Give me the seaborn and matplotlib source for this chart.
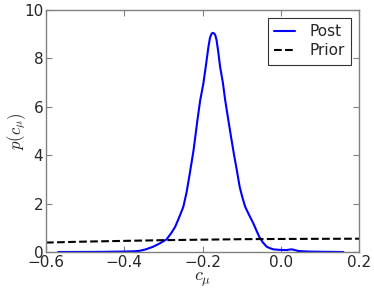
import numpy as np
import matplotlib
matplotlib.use("Agg")
import matplotlib.pyplot as plt
import seaborn as sns
import pandas as pd

# posterior density of c_mu
post_x = [-0.569, -0.50, -0.45, -0.40, -0.375, -0.360, -0.345, -0.326, -0.310,
          -0.292, -0.280, -0.270, -0.260, -0.249, -0.241, -0.234, -0.223,
          -0.213, -0.206, -0.198, -0.191, -0.185, -0.181, -0.177, -0.174,
          -0.170, -0.167, -0.164, -0.160, -0.155, -0.148, -0.142, -0.134,
          -0.127, -0.120, -0.112, -0.105, -0.098, -0.091, -0.080, -0.070,
          -0.062, -0.055, -0.046, -0.036, -0.028, -0.019, -0.005, 0.015,
          0.022, 0.028, 0.036, 0.045, 0.07, 0.10, 0.13, 0.16]
post_y = [0.0, 0.003, 0.008, 0.02, 0.03, 0.05, 0.11, 0.22, 0.35,
          0.52, 0.78, 1.04, 1.42, 1.87, 2.45, 3.1, 4.2,
          5.45, 6.27, 6.95, 7.75, 8.47, 8.85, 9.02, 9.06,
          9.03, 8.95, 8.75, 8.3, 7.65, 7.0, 6.27, 5.45,
          4.75, 4.07, 3.35, 2.69, 2.25, 1.87, 1.5, 1.18,
          0.88, 0.63, 0.40, 0.22, 0.16, 0.11, 0.09, 0.08,
          0.10, 0.11, 0.08, 0.04, 0.02, 0.01, 0.005, 0.0]

# prior density
prior_x = [-0.6, -0.5, -0.4, -0.3, -0.2, -0.1, 0.0, 0.1, 0.2]
prior_y = [0.39, 0.43, 0.46, 0.49, 0.51, 0.53, 0.54, 0.545, 0.55]

post = pd.DataFrame({'x': post_x, 'y': post_y})
prior = pd.DataFrame({'x': prior_x, 'y': prior_y})

sns.set_style('white')
plt.rcParams['mathtext.fontset'] = 'cm'
plt.rcParams['font.family'] = ['DejaVu Sans']

fig = plt.figure(figsize=(3.74, 2.89), dpi=100)
ax = fig.add_axes([0.123, 0.128, 0.837, 0.837])

sns.lineplot(data=post, x='x', y='y', color='#0000ff', lw=1.5, label='Post', ax=ax)
sns.lineplot(data=prior, x='x', y='y', color='k', lw=1.5, ls='--', label='Prior', ax=ax)

ax.set_xlim(-0.6, 0.2)
ax.set_ylim(0, 10)
ax.set_xticks([-0.6, -0.4, -0.2, 0.0, 0.2])
ax.set_yticks([0, 2, 4, 6, 8, 10])
ax.set_xticklabels(['\u22120.6', '\u22120.4', '\u22120.2', '0.0', '0.2'])
ax.tick_params(direction='in', length=4, width=0.8, color='gray', labelsize=11,
               pad=2, top=True, right=True, bottom=True, left=True)
for s in ax.spines.values():
    s.set_color('gray')
    s.set_linewidth(1)

ax.set_xlabel(r'$c_\mu$', fontsize=13, labelpad=1)
ax.set_ylabel(r'$p(c_\mu)$', fontsize=12)
ax.yaxis.set_label_coords(-0.058, 0.5)

leg = ax.legend(loc='upper right', fontsize=11, frameon=True, fancybox=False,
                handlelength=1.4, borderpad=0.4, labelspacing=0.3, handletextpad=0.95,
                borderaxespad=0.5)
leg.get_frame().set_edgecolor('black')
leg.get_frame().set_linewidth(0.8)

fig.savefig('out.png', dpi=100)
